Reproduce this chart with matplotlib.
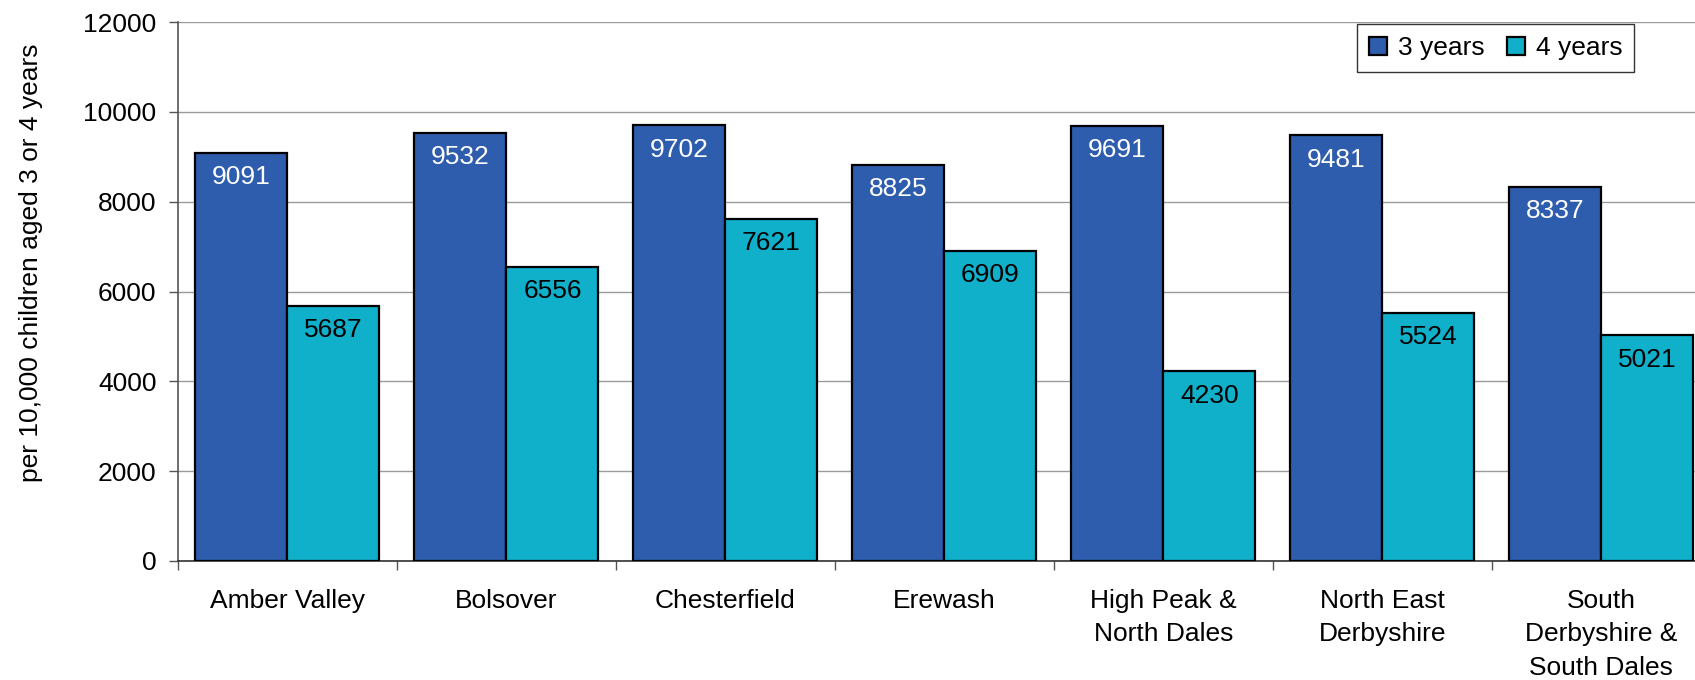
import matplotlib
matplotlib.use("Agg")
import matplotlib.pyplot as plt
import numpy as np

categories = ["Amber Valley", "Bolsover", "Chesterfield", "Erewash",
              "High Peak &\nNorth Dales", "North East\nDerbyshire",
              "South\nDerbyshire &\nSouth Dales"]
years3 = [9091, 9532, 9702, 8825, 9691, 9481, 8337]
years4 = [5687, 6556, 7621, 6909, 4230, 5524, 5021]
series_names = ["3 years", "4 years"]
yticks = [0, 2000, 4000, 6000, 8000, 10000, 12000]

plt.rcParams['font.family'] = ['Liberation Sans', 'DejaVu Sans']

fig = plt.figure(figsize=(16.95, 6.8), dpi=100)
ax = fig.add_axes([0.105, 0.175, 0.9044, 0.7926])

x = np.arange(len(categories))
w = 0.42
c3 = "#2E5DAE"
c4 = "#10AFCA"
ax.bar(x - w/2, years3, w, color=c3, edgecolor="black", linewidth=1.6, label=series_names[0], zorder=3)
ax.bar(x + w/2, years4, w, color=c4, edgecolor="black", linewidth=1.6, label=series_names[1], zorder=3)

FS = 19
for xi, v in zip(x, years3):
    ax.annotate(str(v), (xi - w/2, v), xytext=(0, -9), textcoords="offset points",
                ha="center", va="top", color="white", fontsize=FS, zorder=4)
for xi, v in zip(x, years4):
    ax.annotate(str(v), (xi + w/2, v), xytext=(0, -9), textcoords="offset points",
                ha="center", va="top", color="black", fontsize=FS, zorder=4)

ax.set_xlim(-0.5, len(categories) - 0.5)
ax.set_ylim(0, 12000)
ax.set_yticks(yticks)
ax.set_yticklabels([str(t) for t in yticks], fontsize=FS)
ax.yaxis.grid(True, color="#9a9a9a", linewidth=1, zorder=0)
ax.set_axisbelow(True)

ax.set_xticks(x)
ax.set_xticklabels(categories, fontsize=FS, linespacing=1.5, va="top")
ax.tick_params(axis="x", length=0, pad=20)
ax.set_xticks(np.arange(len(categories)) - 0.5, minor=True)
ax.tick_params(axis="x", which="minor", length=6.5, width=1, color="#555555")
ax.tick_params(axis="y", length=6.5, width=1, color="#555555", pad=9)

for s in ["top", "right"]:
    ax.spines[s].set_visible(False)
ax.spines["left"].set_color("#555555")
ax.spines["left"].set_linewidth(1.2)
ax.spines["bottom"].set_color("#333333")
ax.spines["bottom"].set_linewidth(1.2)

ax.set_ylabel("per 10,000 children aged 3 or 4 years", fontsize=19)
ax.yaxis.set_label_coords(-0.088, 0.554)

leg = ax.legend(loc="upper right", bbox_to_anchor=(0.950, 0.996), ncol=2, fontsize=FS,
                frameon=True, fancybox=False, edgecolor="black",
                handlelength=0.7, handleheight=0.7, handletextpad=0.4,
                columnspacing=0.85, borderpad=0.45, borderaxespad=0)
leg.get_frame().set_linewidth(1)

fig.savefig("out.png", dpi=100)
